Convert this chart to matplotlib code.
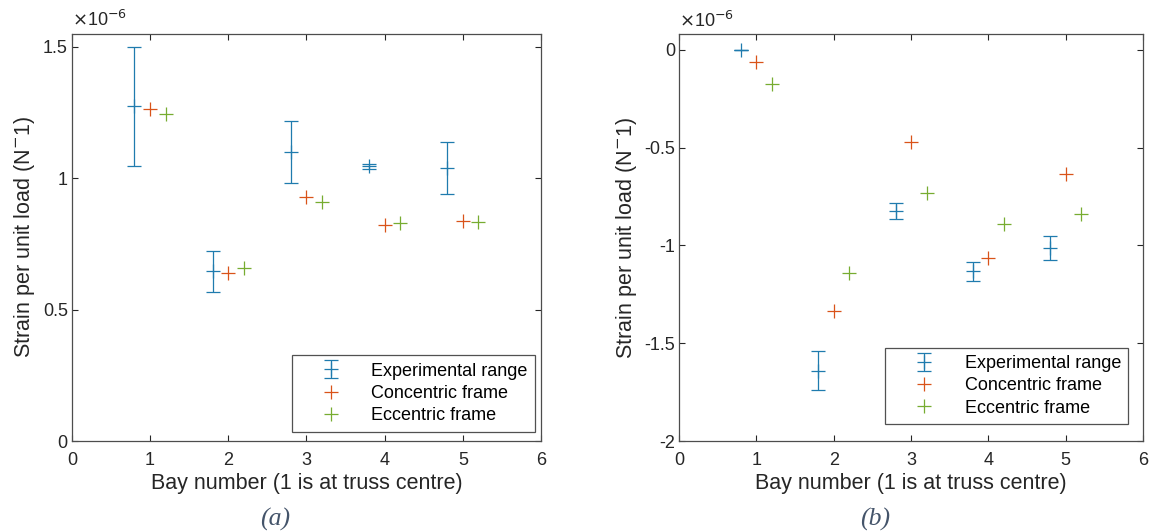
import numpy as np
import matplotlib
matplotlib.use("Agg")
import matplotlib.pyplot as plt
from matplotlib.ticker import FuncFormatter

plt.rcParams['font.family'] = ['Liberation Sans', 'DejaVu Sans']

# bay positions
bays = np.array([1, 2, 3, 4, 5])
x_exp = bays - 0.2
x_con = bays
x_ecc = bays + 0.2

# panel (a) values, x1e-6
a_exp_mid = [1.275, 0.645, 1.10, 1.045, 1.04]
a_exp_lo = [1.045, 0.565, 0.982, 1.035, 0.94]
a_exp_hi = [1.50, 0.723, 1.217, 1.055, 1.136]
a_con = [1.262, 0.640, 0.928, 0.822, 0.838]
a_ecc = [1.243, 0.658, 0.910, 0.828, 0.832]

# panel (b) values, x1e-6
b_exp_mid = [0.0, -1.64, -0.825, -1.13, -1.012]
b_exp_lo = [0.0, -1.74, -0.864, -1.18, -1.075]
b_exp_hi = [0.0, -1.54, -0.786, -1.084, -0.951]
b_con = [-0.063, -1.335, -0.47, -1.063, -0.633]
b_ecc = [-0.174, -1.143, -0.73, -0.89, -0.842]

C_EXP = '#1F7BAE'
C_CON = '#D95319'
C_ECC = '#77AC30'
FS = 13
LFS = 15.5

fig = plt.figure(figsize=(11.53, 5.32), dpi=100)
ax_a = fig.add_axes([0.0624, 0.171, 0.4068, 0.766])
ax_b = fig.add_axes([0.589, 0.171, 0.4024, 0.765])


def draw(ax, mid, lo, hi, con, ecc, ylim, yticks, leg_anchor):
    mid = np.array(mid) * 1e-6
    lo = np.array(lo) * 1e-6
    hi = np.array(hi) * 1e-6
    h_exp = ax.errorbar(x_exp, mid, yerr=[mid - lo, hi - mid], fmt='+', color=C_EXP,
                        ms=10, mew=0.9, elinewidth=0.9, capsize=5, capthick=0.9,
                        label='Experimental range')
    h_con, = ax.plot(x_con, np.array(con) * 1e-6, '+', color=C_CON, ms=10, mew=0.9,
                     label='Concentric frame')
    h_ecc, = ax.plot(x_ecc, np.array(ecc) * 1e-6, '+', color=C_ECC, ms=10, mew=0.9,
                     label='Eccentric frame')
    ax.set_xlim(0, 6)
    ax.set_ylim(ylim[0] * 1e-6, ylim[1] * 1e-6)
    ax.set_xticks(range(7))
    ax.set_yticks(np.array(yticks) * 1e-6)
    ax.yaxis.set_major_formatter(FuncFormatter(lambda v, p: '%g' % round(v * 1e6, 3)))
    ax.tick_params(direction='in', top=True, right=True, length=4, width=0.8,
                   labelsize=FS, colors='#262626')
    ax.tick_params(axis='x', pad=8)
    ax.tick_params(axis='y', pad=3)
    for s in ax.spines.values():
        s.set_color('#4d4d4d')
        s.set_linewidth(0.9)
    ax.set_xlabel('Bay number (1 is at truss centre)', fontsize=LFS, color='#262626', labelpad=3)
    ax.set_ylabel('Strain per unit load (N$^{-}$1)', fontsize=LFS, color='#262626', labelpad=4)
    ax.text(0.0, 1.008, r'$\times$10$^{-6}$', transform=ax.transAxes, fontsize=FS,
            color='#262626', ha='left', va='bottom')
    leg = ax.legend([h_exp, h_con, h_ecc],
                    ['Experimental range', 'Concentric frame', 'Eccentric frame'],
                    loc='lower right', bbox_to_anchor=leg_anchor, fontsize=FS,
                    frameon=True, fancybox=False, edgecolor='#262626',
                    handlelength=3.5, handletextpad=0.5, labelspacing=0.3,
                    borderpad=0.4, borderaxespad=0)
    leg.get_frame().set_linewidth(0.9)


draw(ax_a, a_exp_mid, a_exp_lo, a_exp_hi, a_con, a_ecc, (0, 1.55),
     [0, 0.5, 1, 1.5], (0.987, 0.023))
draw(ax_b, b_exp_mid, b_exp_lo, b_exp_hi, b_con, b_ecc, (-2, 0.08),
     [-2, -1.5, -1, -0.5, 0], (0.968, 0.042))

for xc, cap in [(275, '(a)'), (875, '(b)')]:
    fig.text(xc / 1153, 1 - 519 / 532, cap, fontsize=18.5, family='Liberation Serif',
             style='italic', color='#44546A', ha='center', va='center')

fig.savefig('out.png', dpi=100)
